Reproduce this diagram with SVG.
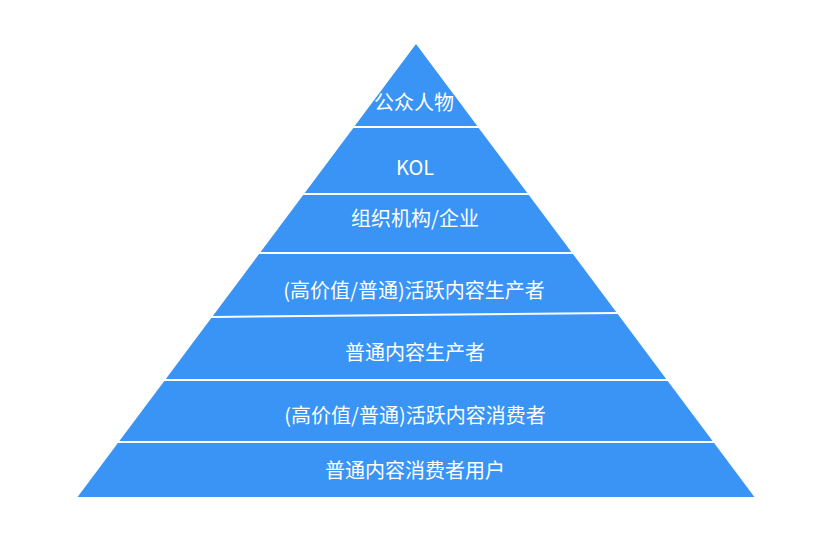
<svg xmlns="http://www.w3.org/2000/svg" width="832" height="540" viewBox="0 0 832 540">
<style>
.band{fill:#3994f5;}
.t{fill:#ffffff;font-family:"Noto Sans CJK SC","Noto Sans",sans-serif;font-size:20px;text-anchor:middle;}
</style>
<rect width="832" height="540" fill="#ffffff"/>
<g id="level1"><polygon class="band" points="416,44 477.3,126 354.7,126"/><text class="t" x="414" y="110">公众人物</text></g>
<g id="level2"><polygon class="band" points="353.3,128 478.7,128 527.3,193 304.7,193"/><text class="t" x="415" y="175">KOL</text></g>
<g id="level3"><polygon class="band" points="303.2,195 528.8,195 571.4,252 260.6,252"/><text class="t" x="415" y="226">组织机构/企业</text></g>
<g id="level4"><polygon class="band" points="259.1,254 572.9,254 616.2,312 212.8,316"/><text class="t" x="414" y="298">(高价值/普通)活跃内容生产者</text></g>
<g id="level5"><polygon class="band" points="211.3,318 617.7,314 666.2,379 165.8,379"/><text class="t" x="415" y="360">普通内容生产者</text></g>
<g id="level6"><polygon class="band" points="164.3,381 667.7,381 712.6,441 119.4,441"/><text class="t" x="415" y="423">(高价值/普通)活跃内容消费者</text></g>
<g id="level7"><polygon class="band" points="117.9,443 714.1,443 754.4,497 77.6,497"/><text class="t" x="415" y="478">普通内容消费者用户</text></g>
<g id="connectors"></g>
</svg>
